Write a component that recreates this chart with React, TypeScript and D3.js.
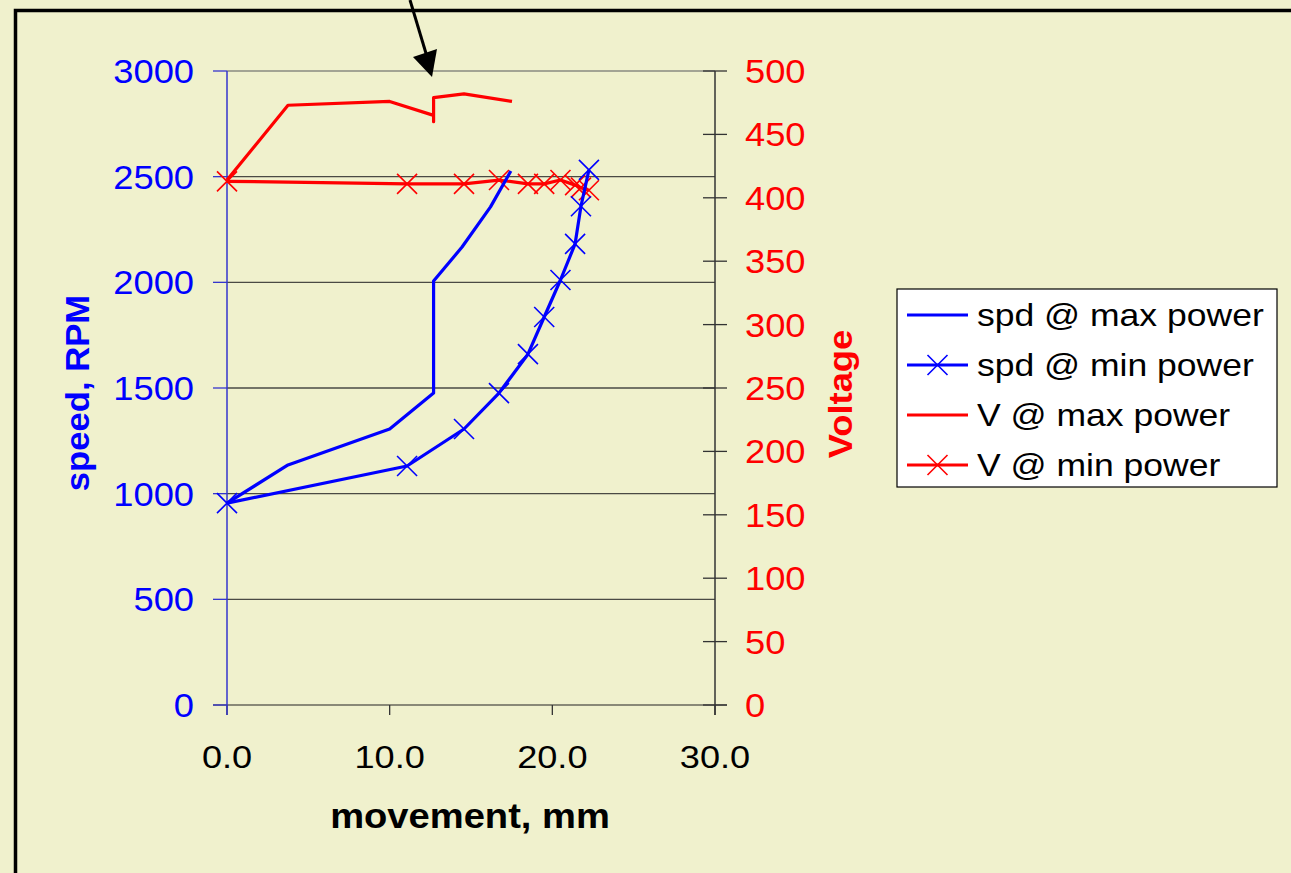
import { line, scaleLinear } from "d3";

// movement (mm) vs speed (RPM), left axis
const movMax = [0, 3.75, 10.0, 12.7, 12.7, 14.45, 16.2, 17.45];
const spdMax = [955, 1136, 1306, 1476, 2006, 2167, 2357, 2527];

const movMin = [0, 11.07, 14.57, 16.72, 18.5, 19.5, 20.5, 21.4, 21.76, 22.25];
const spdMin = [955, 1131, 1306, 1476, 1660, 1836, 2011, 2182, 2360, 2532];

// movement (mm) vs voltage, right axis
const movVMax = [0, 3.75, 10.0, 12.7, 12.7, 12.7, 14.57, 17.52];
const vMax = [414, 473, 476, 465, 460, 479, 482, 476];

const vMin = [413, 411, 411, 414, 411, 411, 414, 410, 408, 406];

const xTicks = [0, 10, 20, 30];
const yLeftTicks = [0, 500, 1000, 1500, 2000, 2500, 3000];
const yRightTicks = [0, 50, 100, 150, 200, 250, 300, 350, 400, 450, 500];

const legendItems = [
  { label: "spd @ max power", color: "#0000FF", marker: false },
  { label: "spd @ min power", color: "#0000FF", marker: true },
  { label: "V @ max power", color: "#FF0000", marker: false },
  { label: "V @ min power", color: "#FF0000", marker: true },
];

type Pt = [number, number];

function XMark({ cx, cy, color }: { cx: number; cy: number; color: string }) {
  const s = 10;
  return (
    <path
      d={`M${cx - s},${cy - s}L${cx + s},${cy + s}M${cx - s},${cy + s}L${cx + s},${cy - s}`}
      stroke={color}
      strokeWidth={1.6}
      fill="none"
    />
  );
}

// text drawn a bit wider than the font, as in the original picture
function T({
  x,
  y,
  children,
  anchor = "start",
  size,
  fill,
  bold = false,
  sx = 1.1,
  rotate = 0,
}: {
  x: number;
  y: number;
  children: string;
  anchor?: "start" | "middle" | "end";
  size: number;
  fill: string;
  bold?: boolean;
  sx?: number;
  rotate?: number;
}) {
  return (
    <text
      transform={`translate(${x},${y}) rotate(${rotate}) scale(${sx},1)`}
      textAnchor={anchor}
      fontSize={size}
      fontWeight={bold ? "bold" : "normal"}
      fill={fill}
    >
      {children}
    </text>
  );
}

export default function App() {
  const width = 1291;
  const height = 873;
  const plot = { left: 227, right: 715, top: 71, bottom: 705 };
  const font = "Arial, 'Liberation Sans', sans-serif";

  const x = scaleLinear().domain([0, 30]).range([plot.left, plot.right]);
  const yL = scaleLinear().domain([0, 3000]).range([plot.bottom, plot.top]);
  const yR = scaleLinear().domain([0, 500]).range([plot.bottom, plot.top]);

  const pathL = line<Pt>()
    .x((d) => x(d[0]))
    .y((d) => yL(d[1]));
  const pathR = line<Pt>()
    .x((d) => x(d[0]))
    .y((d) => yR(d[1]));

  const sMax: Pt[] = movMax.map((m, i) => [m, spdMax[i]]);
  const sMin: Pt[] = movMin.map((m, i) => [m, spdMin[i]]);
  const vMaxPts: Pt[] = movVMax.map((m, i) => [m, vMax[i]]);
  const vMinPts: Pt[] = movMin.map((m, i) => [m, vMin[i]]);

  const legend = { x: 897, y: 289, w: 380, h: 198, row: 50 };

  return (
    <svg
      width={width}
      height={height}
      style={{ position: "absolute", left: 0, top: 0, fontFamily: font }}
    >
      <rect x={0} y={0} width={width} height={height} fill="#F0F1CD" />
      {/* outer frame, only top and left edges are inside the picture */}
      <path d={`M15.5,${height}V10.5H${width}`} stroke="#000" strokeWidth={3.5} fill="none" />

      {/* gridlines */}
      {yLeftTicks.slice(1).map((t) => (
        <line
          key={`g-${t}`}
          x1={plot.left}
          x2={plot.right}
          y1={yL(t)}
          y2={yL(t)}
          stroke={t === 3000 ? "#8a8a80" : "#4a4a44"}
          strokeWidth={1.3}
        />
      ))}

      {/* x axis */}
      <line x1={213} x2={727} y1={plot.bottom} y2={plot.bottom} stroke="#222" strokeWidth={1.2} />
      {xTicks.map((t) => (
        <g key={`xt-${t}`}>
          <line x1={x(t)} x2={x(t)} y1={plot.bottom} y2={plot.bottom + 10} stroke="#333" strokeWidth={1.3} />
          <T x={x(t)} y={768} anchor="middle" size={32} fill="#000" sx={1.13}>
            {t.toFixed(1)}
          </T>
        </g>
      ))}

      {/* left axis */}
      <line x1={plot.left} x2={plot.left} y1={plot.top} y2={plot.bottom + 10} stroke="#3535CC" strokeWidth={1.5} />
      {yLeftTicks.map((t) => (
        <g key={`yl-${t}`}>
          <line x1={plot.left - 14} x2={plot.left} y1={yL(t)} y2={yL(t)} stroke="#3535CC" strokeWidth={1.3} />
          <T x={194} y={yL(t) + 12} anchor="end" size={33} fill="#0000FF">
            {String(t)}
          </T>
        </g>
      ))}

      {/* right axis */}
      <line x1={plot.right} x2={plot.right} y1={plot.top} y2={plot.bottom + 10} stroke="#333" strokeWidth={1.5} />
      {yRightTicks.map((t) => (
        <g key={`yr-${t}`}>
          <line x1={plot.right - 12} x2={plot.right + 12} y1={yR(t)} y2={yR(t)} stroke="#333" strokeWidth={1.3} />
          <T x={745} y={yR(t) + 12} anchor="start" size={33} fill="#FF0000">
            {String(t)}
          </T>
        </g>
      ))}

      {/* series */}
      <path d={pathR(vMaxPts) ?? ""} fill="none" stroke="#FF0000" strokeWidth={3.2} strokeLinejoin="round" />
      <path d={pathR(vMinPts) ?? ""} fill="none" stroke="#FF0000" strokeWidth={3.2} strokeLinejoin="round" />
      {vMinPts.map((d, i) => (
        <XMark key={`vm-${i}`} cx={x(d[0])} cy={yR(d[1])} color="#FF0000" />
      ))}
      <path d={pathL(sMax) ?? ""} fill="none" stroke="#0000FF" strokeWidth={3.2} strokeLinejoin="round" />
      <path d={pathL(sMin) ?? ""} fill="none" stroke="#0000FF" strokeWidth={3.2} strokeLinejoin="round" />
      {sMin.map((d, i) => (
        <XMark key={`sm-${i}`} cx={x(d[0])} cy={yL(d[1])} color="#0000FF" />
      ))}

      {/* axis titles */}
      <T x={470} y={828} anchor="middle" size={35} bold fill="#000" sx={1.09}>
        movement, mm
      </T>
      <T x={89} y={393} anchor="middle" size={33} bold fill="#0000FF" sx={1.05} rotate={-90}>
        speed, RPM
      </T>
      <T x={852} y={394} anchor="middle" size={33} bold fill="#FF0000" sx={1.1} rotate={-90}>
        Voltage
      </T>

      {/* legend */}
      <rect x={legend.x} y={legend.y} width={legend.w} height={legend.h} fill="#FFFFFF" stroke="#000" strokeWidth={1.2} />
      {legendItems.map((item, i) => {
        const cy = legend.y + 26 + i * legend.row;
        return (
          <g key={item.label}>
            <line x1={907} x2={968} y1={cy} y2={cy} stroke={item.color} strokeWidth={3.2} />
            {item.marker ? <XMark cx={937.5} cy={cy} color={item.color} /> : null}
            <T x={977} y={cy + 11} size={32} fill="#000" sx={1.11}>
              {item.label}
            </T>
          </g>
        );
      })}

      {/* annotation arrow */}
      <line x1={410} y1={0} x2={428} y2={60} stroke="#000" strokeWidth={3} />
      <path d="M413,57L437,49L432,77Z" fill="#000" />
    </svg>
  );
}
